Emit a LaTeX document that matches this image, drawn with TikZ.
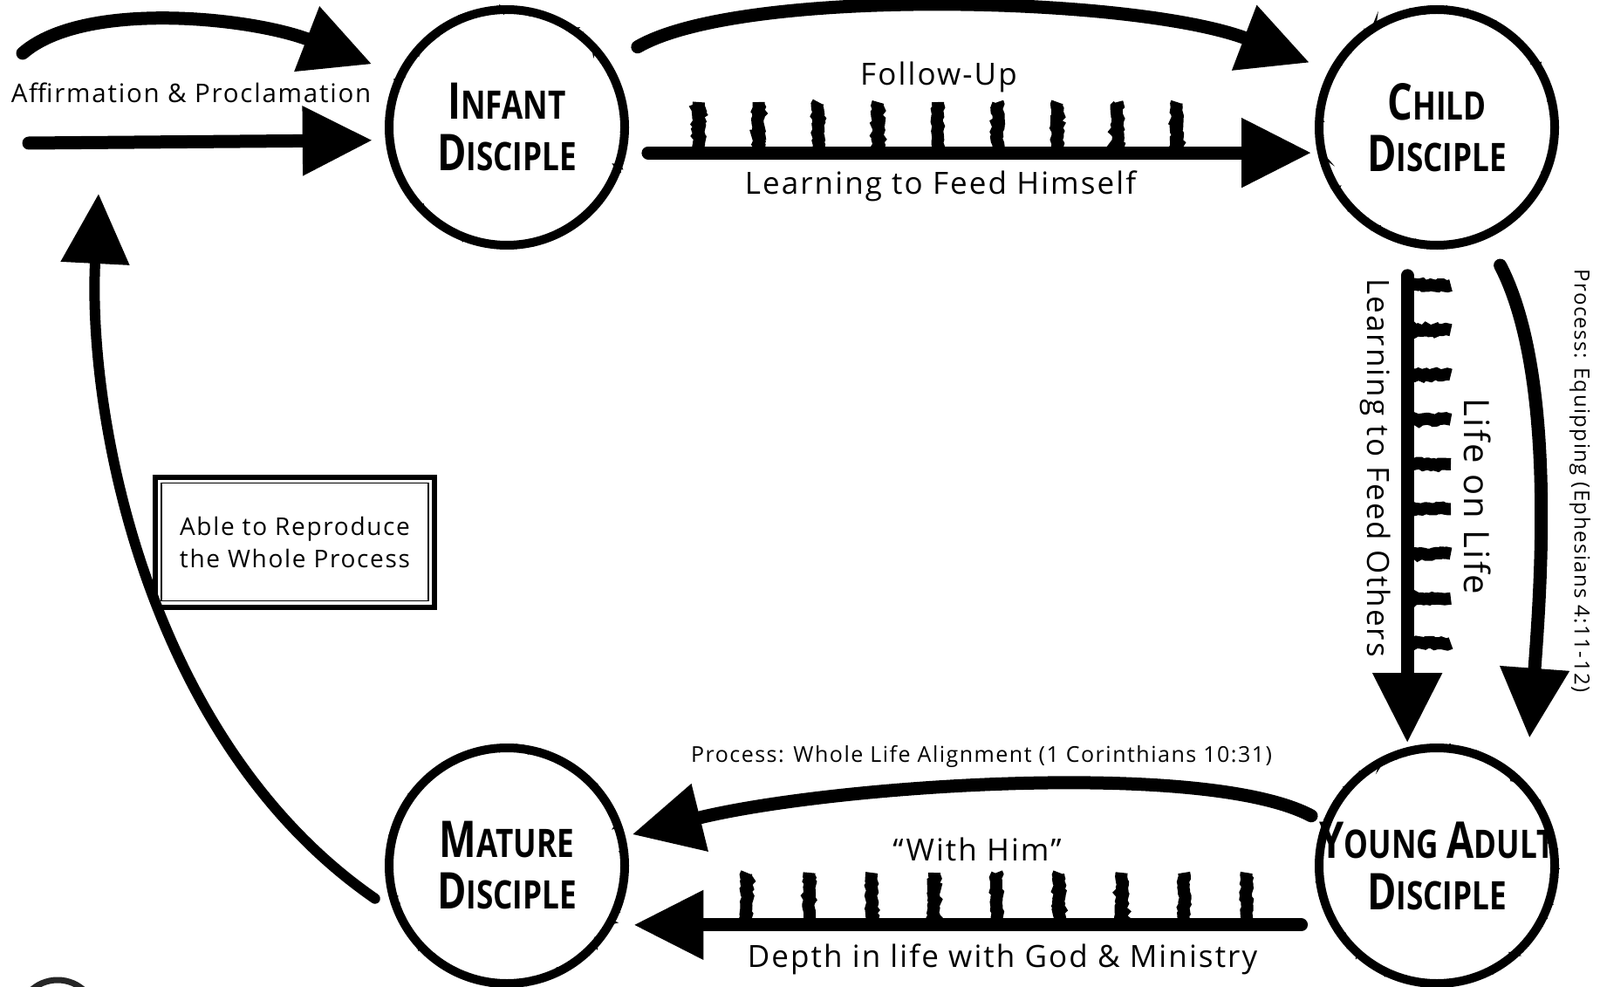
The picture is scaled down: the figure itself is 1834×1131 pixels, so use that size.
\documentclass[tikz,border=0pt]{standalone}
\usepackage{fontspec}
\setmainfont{Open Sans}
\newfontfamily\hand{Open Sans}[LetterSpace=6]
\usetikzlibrary{arrows.meta,decorations.pathmorphing}

% small caps made by hand: big first letter, smaller rest
\newcommand{\smc}[2]{{\fontsize{58}{59}\selectfont #1}{\fontsize{45}{59}\selectfont #2}}
\newcommand{\dword}[1]{\scalebox{0.78}[1]{#1}}

\tikzset{
  disciple/.style = {circle, draw, line width=10pt, minimum size=270pt, inner sep=0pt,
    postaction = {draw, line width=4pt, decorate,
      decoration = {random steps, segment length=4pt, amplitude=3pt}}},
  disclabel/.style = {font=\bfseries\fontsize{45}{59}\selectfont, align=center, inner sep=0pt},
  brush/.style = {line width=15pt, line cap=round, -{Triangle[length=80pt, width=76pt]}},
  tick/.style = {line width=14pt, decorate,
    decoration = {random steps, segment length=3pt, amplitude=1.5pt}},
  lbl/.style = {font=\hand\fontsize{35}{40}\selectfont, inner sep=2pt},
  small lbl/.style = {font=\hand\fontsize{24}{28}\selectfont, inner sep=2pt},
}

\begin{document}
\begin{tikzpicture}[x=1pt, y=-1pt]
  \useasboundingbox (0,0) rectangle (1834,1131);

  % the four stages
  \node [disciple, label={[disclabel]center:{\dword{\smc{I}{NFANT}}\\\dword{\smc{D}{ISCIPLE}}}}] (infant) at (581,146) {};
  \node [disciple, label={[disclabel]center:{\dword{\smc{C}{HILD}}\\\dword{\smc{D}{ISCIPLE}}}}] (child) at (1647,146) {};
  \node [disciple, label={[disclabel]center:{\dword{\smc{M}{ATURE}}\\\dword{\smc{D}{ISCIPLE}}}}] (mature) at (581,992) {};
  \node [disciple, label={[disclabel]center:{\dword{\smc{Y}{OUNG} \smc{A}{DULT}}\\\dword{\smc{D}{ISCIPLE}}}}] (young) at (1647,992) {};

  \coordinate (aff1) at (26,61);
  \coordinate (aff2) at (33,164);
  \coordinate (restart) at (113,222);

  % into the infant stage
  \draw [brush, shorten >=31pt] (aff1) .. controls +(70,-61) and +(-168,-65) .. (infant.154);
  \draw [brush, shorten >=15pt] (aff2) -- (infant.186);
  \node [lbl, font=\hand\fontsize{29.5}{34}\selectfont] (afflbl) at (219,106) {Affirmation \& Proclamation};

  % infant -> child
  \draw [brush, shorten <=36pt, shorten >=24pt] (infant.32) .. controls +(150,-87) and +(-223,-85) .. (child.152);
  \draw [brush, shorten <=25pt, shorten >=7pt] (infant.-12) -- (child.192);
  \foreach \i in {0,...,8}
    \draw [tick] ({801+68.5*\i},117) -- +(0,55);
  \node [lbl] (followup) at (1076,88) {Follow-Up};
  \node [lbl] (himself) at (1078,213) {Learning to Feed Himself};

  % child -> young adult
  \draw [brush, shorten <=34pt, shorten >=5pt] (child.256) -- (young.104);
  \foreach \i in {0,...,8}
    \draw [tick] (1614,{327+51.25*\i}) -- +(49,0);
  \draw [brush, shorten <=34pt, shorten >=51pt] (child.-66) .. controls +(81,156) and +(16,-216) .. (young.43);
  \node [lbl, rotate=-90] (others) at (1577,536) {Learning to Feed Others};
  \node [lbl, rotate=-90, font=\hand\fontsize{40}{44}\selectfont] (lifeonlife) at (1694,569) {Life on Life};
  \node [small lbl, rotate=-90] (equipping) at (1811,551) {Process: Equipping (Ephesians 4:11-12)};

  % young adult -> mature
  \draw [brush, shorten <=15pt, shorten >=8pt] (young.159) .. controls +(-136,-72) and +(233,-58) .. (mature.14);
  \draw [brush, shorten <=33pt, shorten >=23pt] (young.209) -- (mature.-29);
  \foreach \i in {0,...,8}
    \draw [tick] ({856+71.6*\i},1000) -- +(0,56);
  \node [small lbl, font=\hand\fontsize{25}{28}\selectfont] (alignment) at (1125,867) {Process: Whole Life Alignment (1 Corinthians 10:31)};
  \node [lbl] (withhim) at (1120,973) {“With Him”};
  \node [lbl] (depth) at (1149,1099) {Depth in life with God \& Ministry};

  % back to the start
  \draw [brush, line width=12pt, shorten <=26pt] (mature.202) .. controls +(-281,-194) and +(-13,258) .. (restart);
  \node [draw, line width=6pt, minimum width=320pt, minimum height=149pt, align=center,
    font=\hand\fontsize{28}{37}\selectfont] (reproduce) at (338,621) {Able to Reproduce\\the Whole Process};
  \draw [line width=1.5pt] ([shift={(10,10)}]reproduce.north west) rectangle ([shift={(-10,-10)}]reproduce.south east);

  \draw [line width=7pt, black!85] (66,1168) circle [radius=45];
\end{tikzpicture}
\end{document}
